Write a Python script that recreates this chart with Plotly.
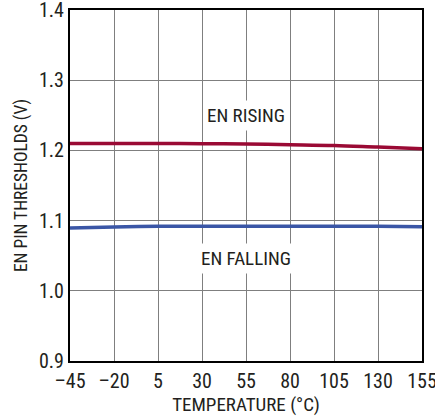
import plotly.graph_objects as go

temps = [-45, -20, 5, 30, 55, 80, 105, 130, 155]
en_rising = [1.2100, 1.2100, 1.2099, 1.2096, 1.2090, 1.2081, 1.2071, 1.2047, 1.2024]
en_falling = [1.0896, 1.0910, 1.0919, 1.0921, 1.0921, 1.0921, 1.0921, 1.0920, 1.0914]

x_ticks = [-45, -20, 5, 30, 55, 80, 105, 130, 155]
y_ticks = [0.9, 1.0, 1.1, 1.2, 1.3, 1.4]
y_tick_text = ["0.9", "1.0", "1.1", "1.2", "1.3", "1.4"]

labels = ["EN RISING", "EN FALLING"]
label_x = [55, 55]
label_y = [1.2495, 1.0455]

FONT = "Liberation Sans Narrow, Arial Narrow, Roboto Condensed, Liberation Sans, Arial, sans-serif"
TXT = "#231f20"

fig = go.Figure()
fig.add_trace(go.Scatter(x=temps, y=en_rising, mode="lines", line=dict(color="#9a0a34", width=3.5, shape="spline"), showlegend=False))
fig.add_trace(go.Scatter(x=temps, y=en_falling, mode="lines", line=dict(color="#3a56a6", width=3.5, shape="spline"), showlegend=False))

for t, xx, yy in zip(labels, label_x, label_y):
    fig.add_annotation(x=xx, y=yy, text=t, showarrow=False, bgcolor="white",
                       font=dict(family=FONT, size=19, color=TXT), borderpad=3)

fig.update_layout(
    width=435, height=419,
    margin=dict(l=70, r=13, t=10, b=58, autoexpand=False),
    paper_bgcolor="white", plot_bgcolor="white",
    font=dict(family=FONT, size=19, color=TXT),
)
fig.update_xaxes(range=[-45, 155], tickvals=x_ticks, ticktext=[str(v).replace("-", "\u2013") for v in x_ticks],
                 showgrid=True, gridcolor="#7f7f7f", gridwidth=1, zeroline=False,
                 showline=True, linecolor="black", linewidth=2, mirror=True, ticks="",
                 automargin=False, ticklabeloverflow="allow", ticklabelstandoff=1,
                 title=dict(text="TEMPERATURE (°C)", font=dict(size=19, color=TXT), standoff=5),
                 tickfont=dict(size=20, color=TXT))
fig.update_yaxes(range=[0.9, 1.4], tickvals=y_ticks, ticktext=y_tick_text,
                 showgrid=True, gridcolor="#7f7f7f", gridwidth=1, zeroline=False,
                 showline=True, linecolor="black", linewidth=2, mirror=True, ticks="",
                 automargin=False, ticklabeloverflow="allow",
                 title=dict(text="EN PIN THRESHOLDS (V)", font=dict(size=17.5, color=TXT), standoff=7),
                 tickfont=dict(size=20, color=TXT))

fig.write_html("out.html", config={"displayModeBar": False},
               post_script="document.body.style.margin='0';")
